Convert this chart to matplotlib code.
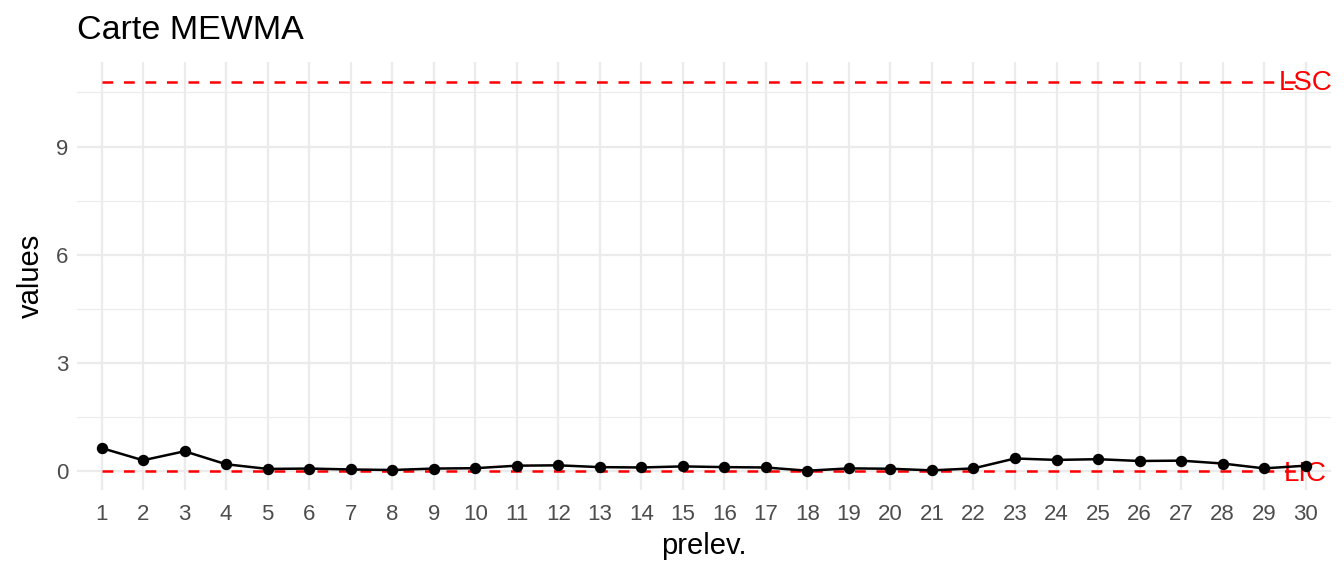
import numpy as np
import matplotlib
matplotlib.use("Agg")
import matplotlib.pyplot as plt

plt.rcParams['font.family'] = ['Liberation Sans', 'DejaVu Sans']

prelev = list(range(1, 31))
values = [0.63, 0.29, 0.54, 0.18, 0.05, 0.06, 0.035, 0.02, 0.06, 0.07,
          0.14, 0.15, 0.10, 0.09, 0.12, 0.10, 0.09, 0.0, 0.065, 0.055,
          0.01, 0.065, 0.34, 0.30, 0.32, 0.27, 0.28, 0.20, 0.065, 0.14]
LSC = 10.8
LIC = 0.0
y_ticks = [0, 3, 6, 9]

fig = plt.figure(figsize=(13.44, 5.76), dpi=100)
ax = fig.add_axes([0.057, 0.149, 0.933, 0.743])

# grille style theme_minimal
for v in [1.5, 4.5, 7.5, 10.5]:
    ax.axhline(v, color='#EBEBEB', lw=0.8, zorder=0)
for v in y_ticks:
    ax.axhline(v, color='#EBEBEB', lw=1.6, zorder=0)
for v in prelev:
    ax.axvline(v, color='#EBEBEB', lw=1.6, zorder=0)

# limites de controle
ax.plot([prelev[0], prelev[-1]], [LSC, LSC], color='red', lw=1.8, ls=(0, (4.3, 4.3)), zorder=2)
ax.plot([prelev[0], prelev[-1]], [LIC, LIC], color='red', lw=1.8, ls=(0, (4.3, 4.3)), zorder=2)
ax.text(30, LSC - 0.05, 'LSC', color='red', fontsize=20, ha='center', va='center', zorder=3)
ax.text(30, LIC - 0.1, 'LIC', color='red', fontsize=20, ha='center', va='center', zorder=3)

ax.plot(prelev, values, color='black', lw=1.8, marker='o', markersize=7.2, zorder=4)

ax.set_xlim(0.4, 30.6)
ax.set_ylim(-0.54, 11.34)
ax.set_xticks(prelev)
ax.set_yticks(y_ticks)
ax.tick_params(axis='x', length=0, labelsize=16, labelcolor='#4D4D4D', pad=10)
ax.tick_params(axis='y', length=0, labelsize=16, labelcolor='#4D4D4D', pad=6)
for s in ax.spines.values():
    s.set_visible(False)

ax.set_xlabel('prelev.', fontsize=21, labelpad=5)
ax.set_ylabel('values', fontsize=21, labelpad=8)
fig.text(0.057, 0.932, 'Carte MEWMA', fontsize=24.5, ha='left', va='baseline')

fig.savefig('out.png', dpi=100)
